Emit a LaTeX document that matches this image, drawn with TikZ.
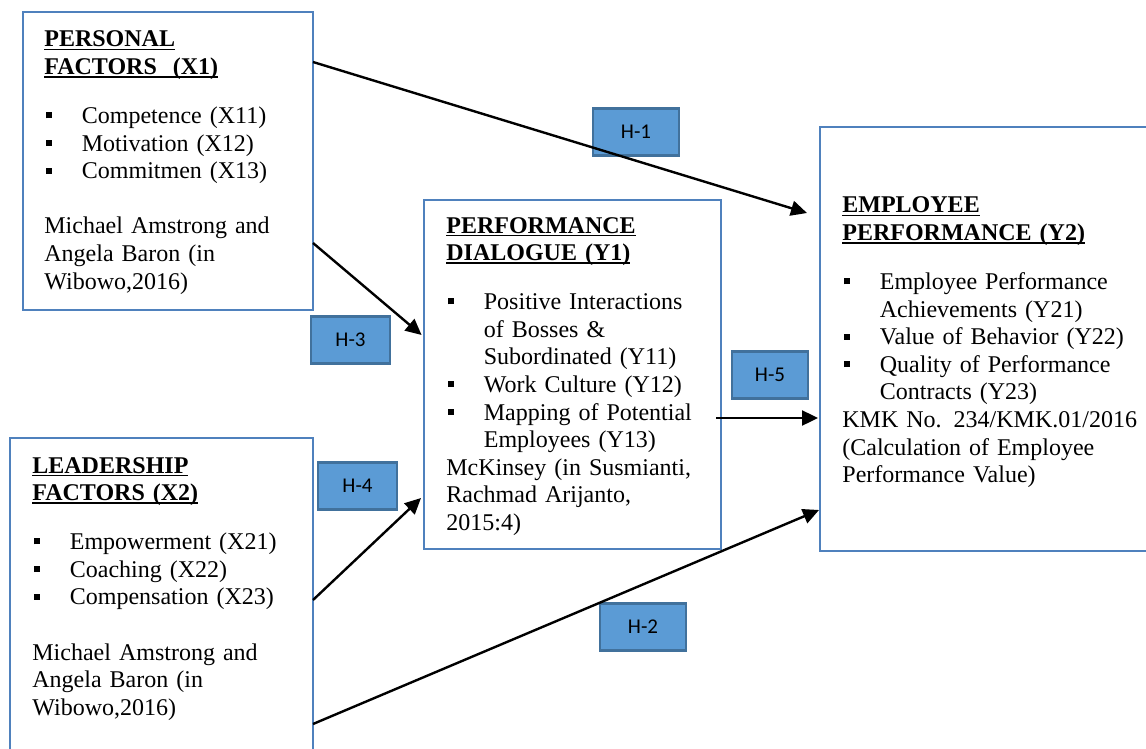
\documentclass[tikz,border=0pt]{standalone}
\usepackage{fontspec}
\setmainfont{Liberation Serif}
\newfontfamily\hfont{Carlito}
\usetikzlibrary{arrows.meta}
\definecolor{boxblue}{HTML}{4F81BD}
\definecolor{hypfill}{HTML}{5B9BD5}
\definecolor{hypline}{HTML}{41719C}
\newcommand{\ttl}[1]{\leavevmode\setbox0\hbox{\bfseries #1}\rlap{\rule[-1.6pt]{\wd0}{0.8pt}}\box0}
\newcommand{\itm}{\leavevmode\hspace*{0.75pt}\makebox[18pt][l]{\rule[2.6pt]{3pt}{3pt}}}
\newcommand{\cnt}{\leavevmode\hspace*{18.75pt}}

\begin{document}
\begin{tikzpicture}[x=0.5pt,y=-0.5pt,
  frame/.style={rectangle,draw=boxblue,line width=1.3pt,inner sep=0pt,outer sep=0pt,anchor=north west},
  txt/.style={inner sep=0pt,text width=180pt,align=left,anchor=base west,font=\fontsize{12}{13.8}\selectfont},
  hyp/.style={rectangle,draw=hypline,fill=hypfill,line width=1.3pt,minimum height=23.5pt,font=\hfont\fontsize{10.5}{12}\selectfont},
  link/.style={line width=1.2pt,-{Triangle[length=8pt,width=7.5pt]}}]
\useasboundingbox (0,0) rectangle (1146,749);
  % the four blocks
\node[frame,minimum width=145pt,minimum height=149pt] (x1) at (23,12) {};
\node[frame,minimum width=151.5pt,minimum height=170pt] (x2) at (10,438) {};
\node[frame,minimum width=148.5pt,minimum height=174.5pt] (y1) at (424,200) {};
\node[frame,minimum width=175pt,minimum height=212pt] (y2) at (820,127) {};
  % their texts
\node[txt] (x1txt) at (44,47) {\ttl{PERSONAL}\\ \ttl{FACTORS~~(X1)}\\[10.7pt]
  \itm Competence (X11)\\ \itm Motivation (X12)\\ \itm Commitmen (X13)\\[13.8pt]
  Michael Amstrong and\\ Angela Baron (in\\ Wibowo,2016)};
\node[txt] (x2txt) at (32,473) {\ttl{LEADERSHIP}\\ \ttl{FACTORS (X2)}\\[10.7pt]
  \itm Empowerment (X21)\\ \itm Coaching (X22)\\ \itm Compensation (X23)\\[13.8pt]
  Michael Amstrong and\\ Angela Baron (in\\ Wibowo,2016)};
\node[txt] (y1txt) at (446,233) {\ttl{PERFORMANCE}\\ \ttl{DIALOGUE (Y1)}\\[10.7pt]
  \itm Positive Interactions\\ \cnt of Bosses \&\\ \cnt Subordinated (Y11)\\
  \itm Work Culture (Y12)\\ \itm Mapping of Potential\\ \cnt Employees (Y13)\\
  McKinsey (in Susmianti,\\ Rachmad Arijanto,\\ 2015:4)};
\node[txt] (y2txt) at (842,213) {\ttl{EMPLOYEE}\\ \ttl{PERFORMANCE (Y2)}\\[10.7pt]
  \itm Employee Performance\\ \cnt Achievements (Y21)\\ \itm Value of Behavior (Y22)\\
  \itm Quality of Performance\\ \cnt Contracts (Y23)\\
  KMK No. 234/KMK.01/2016\\ (Calculation of Employee\\ Performance Value)};
  % hypotheses
\node[hyp,minimum width=43pt] (h1) at (636,132) {H-1};
\node[hyp,minimum width=43pt] (h2) at (643,627) {H-2};
\node[hyp,minimum width=39.5pt] (h3) at (350.5,340) {H-3};
\node[hyp,minimum width=39.5pt] (h4) at (357.5,486) {H-4};
\node[hyp,minimum width=38pt] (h5) at (770,375) {H-5};
  % paths
\draw[link] ([yshift=-25pt]x1.north east) -- ([xshift=-6.5pt,yshift=-43pt]y2.north west);
\draw[link] ([yshift=-115.5pt]x1.north east) -- ([xshift=-1.2pt,yshift=-67.5pt]y1.north west);
\draw[link] ([yshift=-81pt]x2.north east) -- ([xshift=-1.5pt,yshift=25.5pt]y1.south west);
\draw[link] ([xshift=-2.5pt,yshift=-109pt]y1.north east) -- ([xshift=-1pt,yshift=-145.5pt]y2.north west);
\draw[link] ([yshift=-143pt]x2.north east) -- ([xshift=-0.5pt,yshift=20.5pt]y2.south west);
\end{tikzpicture}
\end{document}
